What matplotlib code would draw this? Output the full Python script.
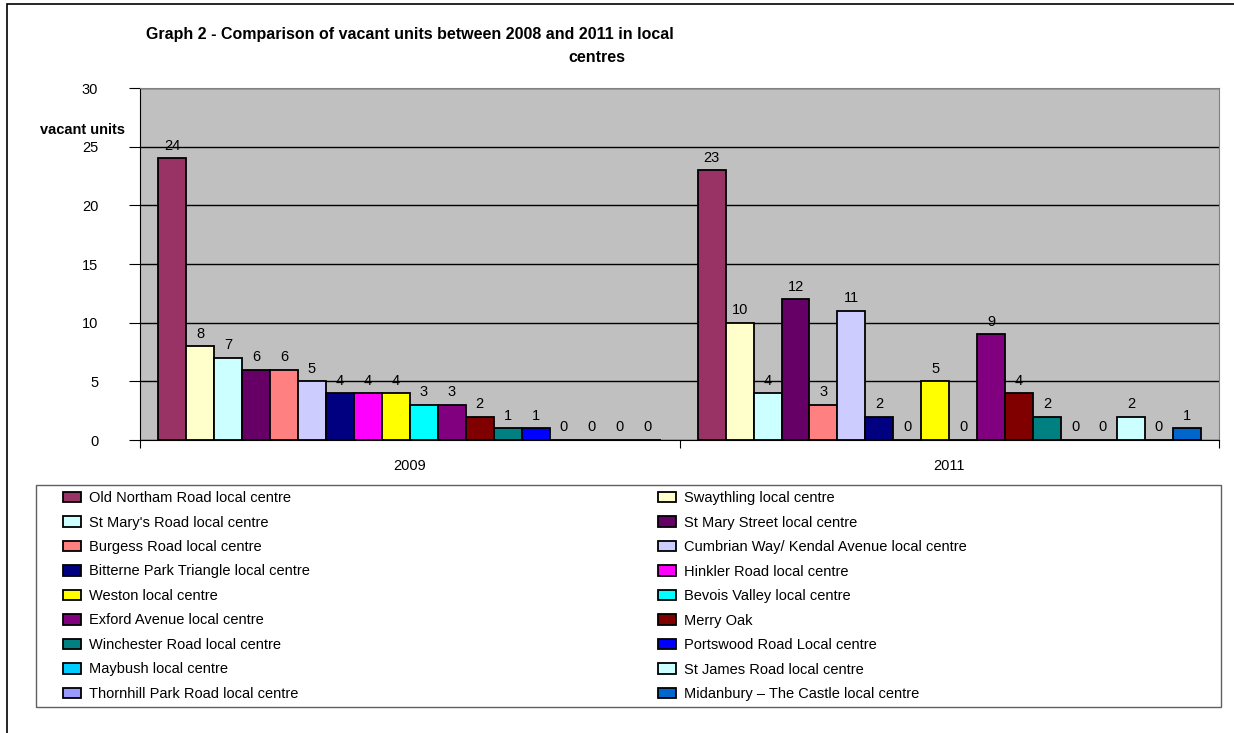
import matplotlib.pyplot as plt
from matplotlib.patches import Rectangle
import numpy as np

plt.rcParams['font.family'] = ['Liberation Sans', 'DejaVu Sans']

years = ['2009', '2011']
centres = [
    'Old Northam Road local centre', 'Swaythling local centre',
    "St Mary's Road local centre", 'St Mary Street local centre',
    'Burgess Road local centre', 'Cumbrian Way/ Kendal Avenue local centre',
    'Bitterne Park Triangle local centre', 'Hinkler Road local centre',
    'Weston local centre', 'Bevois Valley local centre',
    'Exford Avenue local centre', 'Merry Oak',
    'Winchester Road local centre', 'Portswood Road Local centre',
    'Maybush local centre', 'St James Road local centre',
    'Thornhill Park Road local centre', 'Midanbury \u2013 The Castle local centre',
]
vals_2009 = [24, 8, 7, 6, 6, 5, 4, 4, 4, 3, 3, 2, 1, 1, 0, 0, 0, 0]
vals_2011 = [23, 10, 4, 12, 3, 11, 2, 0, 5, 0, 9, 4, 2, 0, 0, 2, 0, 1]
colors = [
    '#993366', '#FFFFCC', '#CCFFFF', '#660066', '#FF8080', '#CCCCFF',
    '#000080', '#FF00FF', '#FFFF00', '#00FFFF', '#800080', '#800000',
    '#008080', '#0000FF', '#00CCFF', '#CCFFFF', '#9999FF', '#0066CC',
]

W, H = 1234, 733
fig = plt.figure(figsize=(W / 100, H / 100), dpi=100)
ax = fig.add_axes([140 / W, 1 - 440 / H, 1079 / W, 352 / H])
ax.set_facecolor('#C0C0C0')

n = len(centres)
x = np.arange(len(years))
width = 1 / (n + 1.3)
handles = []
for i, name in enumerate(centres):
    vals = [vals_2009[i], vals_2011[i]]
    pos = x - n * width / 2 + (i + 0.5) * width
    bars = ax.bar(pos, vals, width, color=colors[i], edgecolor='black',
                  linewidth=1.3, label=name, zorder=3)
    handles.append(bars)
    for p, v in zip(pos, vals):
        ax.annotate(str(v), (p, v), xytext=(0, 4), textcoords='offset points',
                    ha='center', va='bottom', fontsize=10.5, zorder=4)

ax.set_xlim(-0.5, 1.5)
ax.set_ylim(0, 30)
ax.set_yticks(range(0, 31, 5))
ax.yaxis.grid(True, color='black', linewidth=1, zorder=1)
ax.tick_params(axis='y', length=8, pad=22, labelsize=10.5)
ax.set_xticks([-0.5, 0.5, 1.5], labels=['', '', ''])
ax.tick_params(axis='x', which='major', length=6)
ax.set_xticks(x, labels=years, minor=True)
ax.tick_params(axis='x', which='minor', length=0, pad=14, labelsize=10.5)
for s in ['top', 'right']:
    ax.spines[s].set_color('#808080')
for s in ['left', 'bottom']:
    ax.spines[s].set_color('black')

fig.text(410 / W, 1 - 35 / H,
         'Graph 2 - Comparison of vacant units between 2008 and 2011 in local',
         ha='center', va='center', fontsize=11.5, fontweight='bold')
fig.text(597 / W, 1 - 58 / H, 'centres', ha='center', va='center',
         fontsize=11.5, fontweight='bold')
fig.text(125 / W, 1 - 130 / H, 'vacant units', ha='right', va='center',
         fontsize=10.5, fontweight='bold')

# legend is read row by row, so split into two columns
leg_kw = dict(loc='upper left', frameon=False, fontsize=10.5, borderpad=0,
              borderaxespad=0, handlelength=1.2, handleheight=0.7,
              handletextpad=0.6, labelspacing=0.72)
col1 = handles[0::2]
col2 = handles[1::2]
fig.legend(col1, [h.get_label() for h in col1],
           bbox_to_anchor=(63 / W, 1 - 491 / H), **leg_kw)
fig.legend(col2, [h.get_label() for h in col2],
           bbox_to_anchor=(658 / W, 1 - 491 / H), **leg_kw)
fig.patches.append(Rectangle((36 / W, 1 - 707 / H), 1185 / W, 222 / H,
                             transform=fig.transFigure, fill=False,
                             edgecolor='#606060', linewidth=1))
fig.patches.append(Rectangle((7 / W, -0.5), 2, 1.5 - 4 / H,
                             transform=fig.transFigure, fill=False,
                             edgecolor='black', linewidth=1.2))

fig.savefig('out.png', dpi=100)
